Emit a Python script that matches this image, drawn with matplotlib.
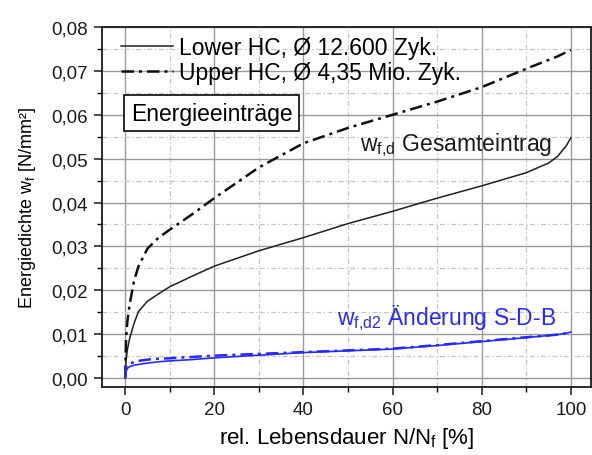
import matplotlib
matplotlib.use("Agg")
import matplotlib.pyplot as plt
from matplotlib.ticker import MultipleLocator, FuncFormatter

plt.rcParams['font.family'] = ['Liberation Sans', 'DejaVu Sans']
plt.rcParams['mathtext.fontset'] = 'custom'
plt.rcParams['mathtext.rm'] = 'Liberation Sans'
plt.rcParams['mathtext.it'] = 'Liberation Sans'

# relative life N/Nf [%]
life = [0, 0.2, 0.5, 1, 2, 3, 5, 7.5, 10, 15, 20, 30, 40, 50, 60, 70, 80, 90, 95, 97, 99, 100]

# total energy input w_f,d
lower_total = [0, 0.004, 0.0065, 0.009, 0.0125, 0.0152, 0.0175, 0.0192, 0.0208, 0.0232, 0.0255,
               0.029, 0.032, 0.0352, 0.038, 0.041, 0.0438, 0.0468, 0.049, 0.0505, 0.053, 0.0548]
upper_total = [0, 0.009, 0.013, 0.0168, 0.0222, 0.0255, 0.0295, 0.032, 0.0338, 0.0373, 0.041,
               0.048, 0.0535, 0.057, 0.060, 0.063, 0.0663, 0.0705, 0.0725, 0.0733, 0.0743, 0.0748]

# change w_f,d2
lower_change = [0, 0.0015, 0.0022, 0.0026, 0.0029, 0.0031, 0.0034, 0.0037, 0.0039, 0.0042, 0.0046,
                0.0052, 0.0058, 0.0062, 0.0066, 0.0074, 0.0083, 0.0092, 0.0097, 0.0099, 0.0102, 0.0105]
upper_change = [0, 0.0025, 0.003, 0.0033, 0.0036, 0.0039, 0.0042, 0.0044, 0.0045, 0.0048, 0.0051,
                0.0055, 0.0059, 0.0063, 0.0067, 0.0075, 0.0084, 0.0093, 0.0097, 0.0099, 0.0102, 0.0104]

blue = '#2a2aff'
dashdot = (0, (5, 2, 1.2, 2))
big = 16.5

fig = plt.figure(figsize=(5.92, 4.56), dpi=100)
ax = fig.add_axes([0.1723, 0.1491, 0.826, 0.7895])

ax.plot(life, lower_total, color='#202020', lw=1.1, label='Lower HC, Ø 12.600 Zyk.')
ax.plot(life, upper_total, color='#101010', lw=1.8, linestyle=dashdot,
        label='Upper HC, Ø 4,35 Mio. Zyk.')
ax.plot(life, lower_change, color=blue, lw=1.2)
ax.plot(life, upper_change, color=blue, lw=1.8, linestyle=dashdot)

ax.set_xlim(-5.2, 104.5)
ax.set_ylim(-0.00205, 0.08)

ax.xaxis.set_major_locator(MultipleLocator(20))
ax.xaxis.set_minor_locator(MultipleLocator(10))
ax.yaxis.set_major_locator(MultipleLocator(0.01))
ax.yaxis.set_minor_locator(MultipleLocator(0.005))
ax.yaxis.set_major_formatter(FuncFormatter(lambda v, p: ('%.2f' % v).replace('.', ',')))

ax.grid(which='major', color='#9a9a9a', lw=1.0, ls='-')
ax.grid(which='minor', color='#c4c4c4', lw=0.9, ls=(0, (4, 2, 1, 2)))
ax.set_axisbelow(True)

ax.tick_params(which='major', direction='out', length=6, width=1.1, labelsize=13.5,
               colors='#1a1a1a', pad=4)
ax.tick_params(which='minor', direction='out', length=3.5, width=1.0)
ax.tick_params(top=False, right=False, which='both')
for s in ax.spines.values():
    s.set_linewidth(1.3)
    s.set_color('#1a1a1a')

ax.set_xlabel(r'rel. Lebensdauer N/N$\mathregular{_f}$ [%]', fontsize=16, labelpad=5)
ax.set_ylabel(r'Energiedichte w$\mathregular{_f}$ [N/mm²]', fontsize=13, labelpad=10)

ax.legend(loc='upper left', frameon=False, fontsize=big, handlelength=2.25,
          handletextpad=0.28, borderaxespad=0.0, labelspacing=0.08,
          bbox_to_anchor=(0.02, 1.0))

ax.text(0.059, 0.76, 'Energieeinträge', transform=ax.transAxes, fontsize=big,
        va='center', ha='left',
        bbox=dict(boxstyle='square,pad=0.28', fc='white', ec='#1a1a1a', lw=1.3))

ax.text(52.7, 0.0533, r'w$\mathregular{_{f{,}d}}$ Gesamteintrag', fontsize=big, color='#1a1a1a',
        va='center', ha='left')
ax.text(47.5, 0.0139, r'w$\mathregular{_{f{,}d2}}$ Änderung S-D-B', fontsize=big, color=blue,
        va='center', ha='left')

fig.savefig('out.png', dpi=100)
